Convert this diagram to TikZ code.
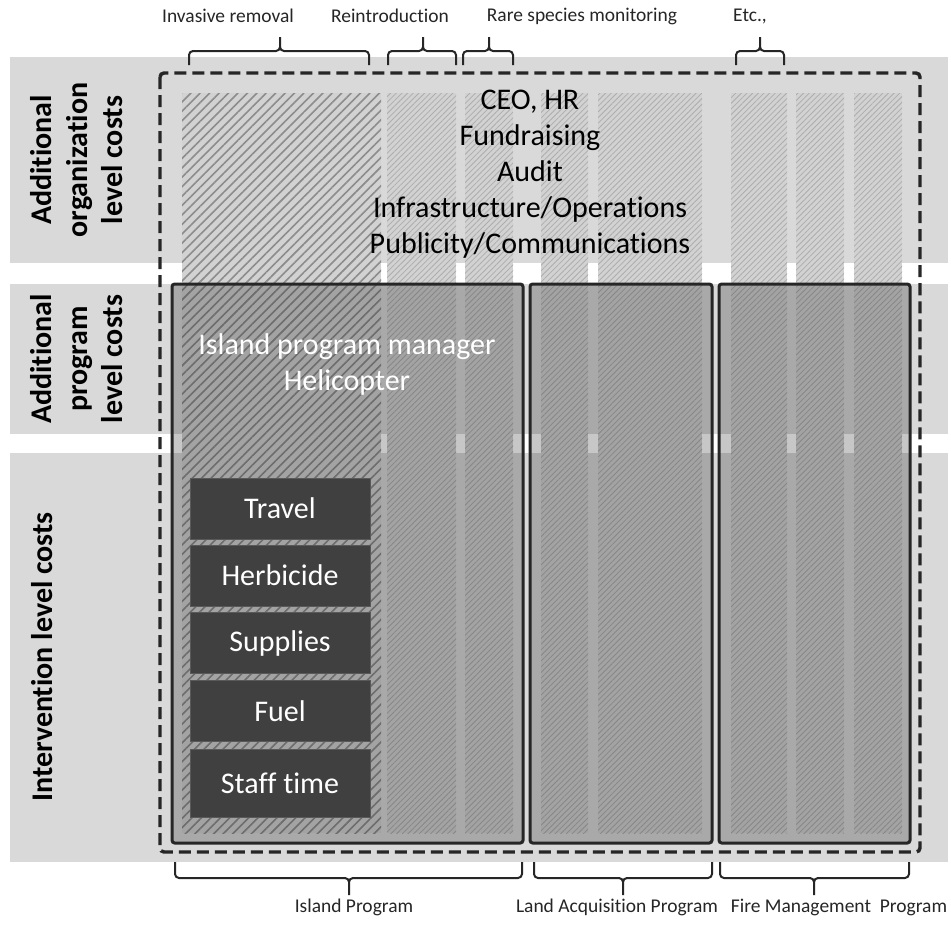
\documentclass[tikz,border=0pt]{standalone}
\usepackage{fontspec}
\setmainfont{Carlito}[Ligatures=NoCommon]
\usepackage{xcolor}
\usepackage{tikz}
\usetikzlibrary{positioning,patterns.meta}

\definecolor{bandgray}{HTML}{D9D9D9}
\definecolor{ink}{HTML}{262626}
\definecolor{costgray}{HTML}{404040}
\definecolor{hatchdark}{HTML}{8C8C8C}
\definecolor{hatchlight}{HTML}{ADADAD}
\definecolor{colgray}{HTML}{D2D2D2}

\begin{document}
\begin{tikzpicture}[x=0.75pt,y=-0.75pt,
	level band/.style={fill=bandgray},
	column/.style={preaction={fill=colgray},pattern={Lines[angle=45,distance=3pt,line width=0.6pt]},pattern color=hatchlight},
	wide column/.style={preaction={fill=colgray},pattern={Lines[angle=45,distance=5pt,line width=1.2pt]},pattern color=hatchdark},
	program/.style={draw=ink,line width=2.25pt,rounded corners=2pt,fill=black,fill opacity=0.22,inner sep=0pt},
	org/.style={draw=ink,line width=2.6pt,dash pattern=on 9pt off 4.5pt,rounded corners=3pt},
	cost/.style={fill=costgray,draw=gray!70!black,line width=0.75pt,text=white,minimum width=135pt,minimum height=45.75pt,inner sep=0pt,font=\fontsize{22.5}{27}\selectfont},
	big text/.style={align=center,font=\fontsize{22.5}{27}\selectfont},
	level/.style={rotate=90,align=center,font=\bfseries\fontsize{22.5}{26.6}\selectfont},
	small label/.style={font=\fontsize{14.6}{17}\selectfont,text=ink},
	brace line/.style={draw=ink,line width=1.5pt,rounded corners=3pt}]

	\useasboundingbox[fill=white] (0,0) rectangle (951,925);

	% Level bands
	\fill[level band] (10,57) rectangle (948,263);
	\fill[level band] (10,284) rectangle (948,434);
	\fill[level band] (10,453) rectangle (948,862);

	% Intervention columns
	\fill[wide column] (182,93) rectangle (381,833);
	\foreach \a/\b in {387/456, 465/513, 541/588, 598/702, 731/787, 796/844, 854/902}
		\fill[column] (\a,93) rectangle (\b,833);

	% Programs
	\node [program,minimum width=263.25pt,minimum height=419.25pt] at (347.5,563.5) (island) {};
	\node [program,minimum width=136.5pt,minimum height=419.25pt] at (621,563.5) (land) {};
	\node [program,minimum width=143.25pt,minimum height=419.25pt] at (814.5,563.5) (fire) {};

	% Organization
	\draw[org] (160,73) rectangle (920,852);

	% Cost texts
	\node [big text] at (530,174) (orgcosts) {CEO, HR\\Fundraising\\Audit\\Infrastructure/Operations\\Publicity/Communications};
	\node [big text,text=white] at (347,364) (islandcosts) {Island program manager\\Helicopter};

	\node [cost] at (280,508.5) (travel) {Travel};
	\node [cost] at (280,575.5) (herbicide) {Herbicide};
	\node [cost] at (280,643) (supplies) {Supplies};
	\node [cost] at (280,711) (fuel) {Fuel};
	\node [cost,minimum height=51pt] at (280,783) (staff) {Staff time};

	% Level labels
	\node [level] at (77,160) (orglevel) {Additional\\organization\\level costs};
	\node [level] at (77,359) (programlevel) {Additional\\program\\level costs};
	\node [level] at (42,657) (interventionlevel) {Intervention level costs};

	% Top braces
	\foreach \a/\t/\b in {189/280/369, 388/423/456, 463/489/513, 736/760/784}
		\draw[brace line] (\a,65) -- (\a,51) -- (\t,51) -- (\t,37) (\b,65) -- (\b,51) -- (\t,51) -- (\t,37);
	\node [small label] at (228,16) (invasive) {Invasive removal};
	\node [small label] at (390,16) (reintro) {Reintroduction};
	\node [small label] at (582,16) (rare) {Rare species monitoring};
	\node [small label] at (750,16) (etc) {Etc.,};

	% Bottom braces
	\foreach \a/\t/\b in {175/349/522, 534/623/712, 720/814/909}
		\draw[brace line] (\a,862) -- (\a,878) -- (\t,878) -- (\t,895) (\b,862) -- (\b,878) -- (\t,878) -- (\t,895);
	\node [small label] at (354,907) (islandname) {Island Program};
	\node [small label] at (617,907) (landname) {Land Acquisition Program};
	\node [small label] at (839,907) (firename) {Fire Management\ \ Program};

\end{tikzpicture}
\end{document}
